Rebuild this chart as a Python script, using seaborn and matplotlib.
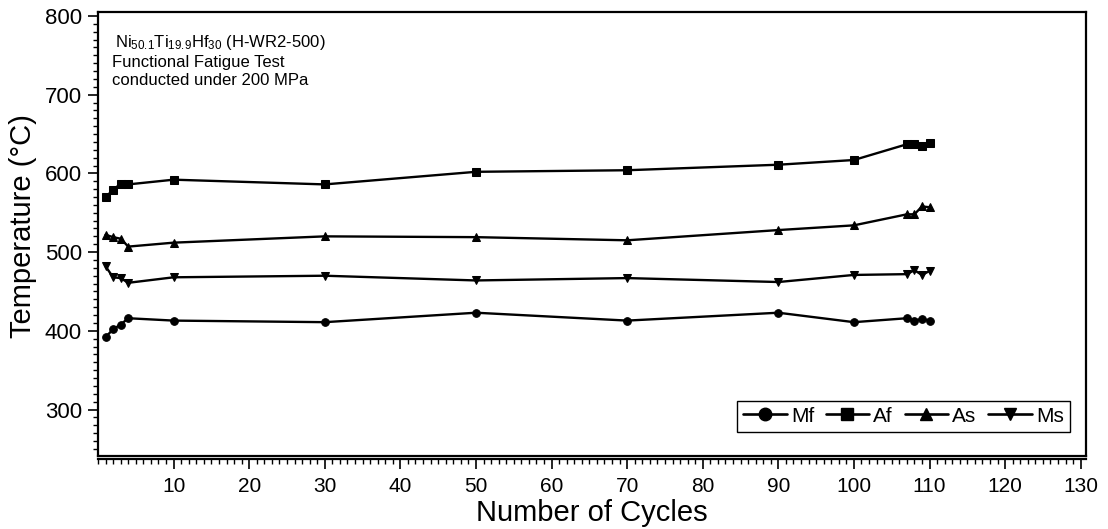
import numpy as np
import pandas as pd
import matplotlib
matplotlib.use("Agg")
import matplotlib.pyplot as plt
from matplotlib.lines import Line2D
from matplotlib.ticker import MultipleLocator, FixedLocator
import seaborn as sns

# Transformation temperatures (°C) versus thermal cycle number
cycles = [1, 2, 3, 4, 10, 30, 50, 70, 90, 100, 107, 108, 109, 110]
mf = [392, 402, 408, 416, 413, 411, 423, 413, 423, 411, 416, 413, 415, 413]
af = [570, 579, 587, 586, 592, 586, 602, 604, 611, 617, 637, 637, 635, 638]
as_ = [522, 519, 517, 507, 512, 520, 519, 515, 528, 534, 548, 548, 558, 557]
ms = [482, 468, 467, 461, 468, 470, 464, 467, 462, 471, 472, 477, 471, 476]

series_names = ["Mf", "Af", "As", "Ms"]
series_markers = ["o", "s", "^", "v"]
x_ticks = [10, 20, 30, 40, 50, 60, 70, 80, 90, 100, 110, 120, 130]
y_ticks = [300, 400, 500, 600, 700, 800]

sns.set_theme(style="white")
plt.rcParams["font.family"] = ["Liberation Sans", "DejaVu Sans"]
plt.rcParams["mathtext.fontset"] = "custom"
plt.rcParams["mathtext.rm"] = "Liberation Sans"
plt.rcParams["mathtext.it"] = "Liberation Sans:italic"
plt.rcParams["mathtext.bf"] = "Liberation Sans:bold"
for key in ["text.color", "axes.labelcolor", "xtick.color", "ytick.color",
            "axes.edgecolor"]:
    plt.rcParams[key] = "black"

df = pd.DataFrame({
    "Cycles": cycles * 4,
    "Temperature": mf + af + as_ + ms,
    "Series": np.repeat(series_names, len(cycles)),
})

W, H = 1108, 529
fig = plt.figure(figsize=(W / 100, H / 100), dpi=100)
left, right, top, bottom = 98, 1086, 12, 456
ax = fig.add_axes([left / W, 1 - bottom / H, (right - left) / W, (bottom - top) / H])

sns.lineplot(
    data=df, x="Cycles", y="Temperature",
    hue="Series", style="Series",
    hue_order=series_names, style_order=series_names,
    palette=["black"] * 4,
    markers=dict(zip(series_names, series_markers)),
    dashes=False, linewidth=1.7, markersize=5.5,
    markeredgecolor="black", legend=False, ax=ax,
)

for sp in ax.spines.values():
    sp.set_color("black")
    sp.set_linewidth(1.6)
ax.spines["bottom"].set_position(("outward", 2.2))
# closing line of the plot frame above the offset x axis
ax.plot([0, 1], [0, 0], transform=ax.transAxes, color="black",
        linewidth=1.6, clip_on=False, solid_capstyle="projecting")

ax.set_xlim(0, 130.7)
ax.set_ylim(241, 805)
ax.xaxis.set_major_locator(FixedLocator(x_ticks))
ax.xaxis.set_minor_locator(MultipleLocator(1))
ax.yaxis.set_major_locator(FixedLocator(y_ticks))
ax.yaxis.set_minor_locator(MultipleLocator(10))

ax.tick_params(axis="both", which="both", direction="out",
               top=False, right=False, bottom=True, left=True, color="black")
ax.tick_params(which="major", length=7.5, width=1.2)
ax.tick_params(which="minor", length=3.8, width=1.0)
ax.tick_params(axis="x", which="major", labelsize=15, pad=5.2, labelcolor="black")
ax.tick_params(axis="y", which="major", labelsize=16, pad=4, labelcolor="black")

ax.set_xlabel("Number of Cycles", fontsize=21, color="black")
ax.set_ylabel("Temperature (°C)", fontsize=21, color="black")
ax.xaxis.set_label_coords(0.5, -0.097)
ax.yaxis.set_label_coords(-0.062, 0.518)

ax.text(0.0172, 0.922, r"Ni$_{50.1}$Ti$_{19.9}$Hf$_{30}$ (H-WR2-500)",
        transform=ax.transAxes, fontsize=12, va="baseline", ha="left", color="black")
ax.text(0.0139, 0.877, "Functional Fatigue Test",
        transform=ax.transAxes, fontsize=12, va="baseline", ha="left", color="black")
ax.text(0.0139, 0.836, "conducted under 200 MPa",
        transform=ax.transAxes, fontsize=12, va="baseline", ha="left", color="black")

handles = [Line2D([], [], color="black", linewidth=1.9, marker=m,
                  markersize=9, markeredgecolor="black")
           for m in series_markers]
leg = ax.legend(handles, series_names, loc="lower right",
                bbox_to_anchor=(0.984, 0.054), ncol=4, fontsize=15,
                frameon=True, fancybox=False, edgecolor="black",
                handlelength=2.1, handletextpad=0.2, columnspacing=0.55,
                borderpad=0.3, borderaxespad=0.0, labelcolor="black")
leg.get_frame().set_linewidth(1.0)
leg.get_frame().set_alpha(1)

fig.savefig("out.png", dpi=100)
